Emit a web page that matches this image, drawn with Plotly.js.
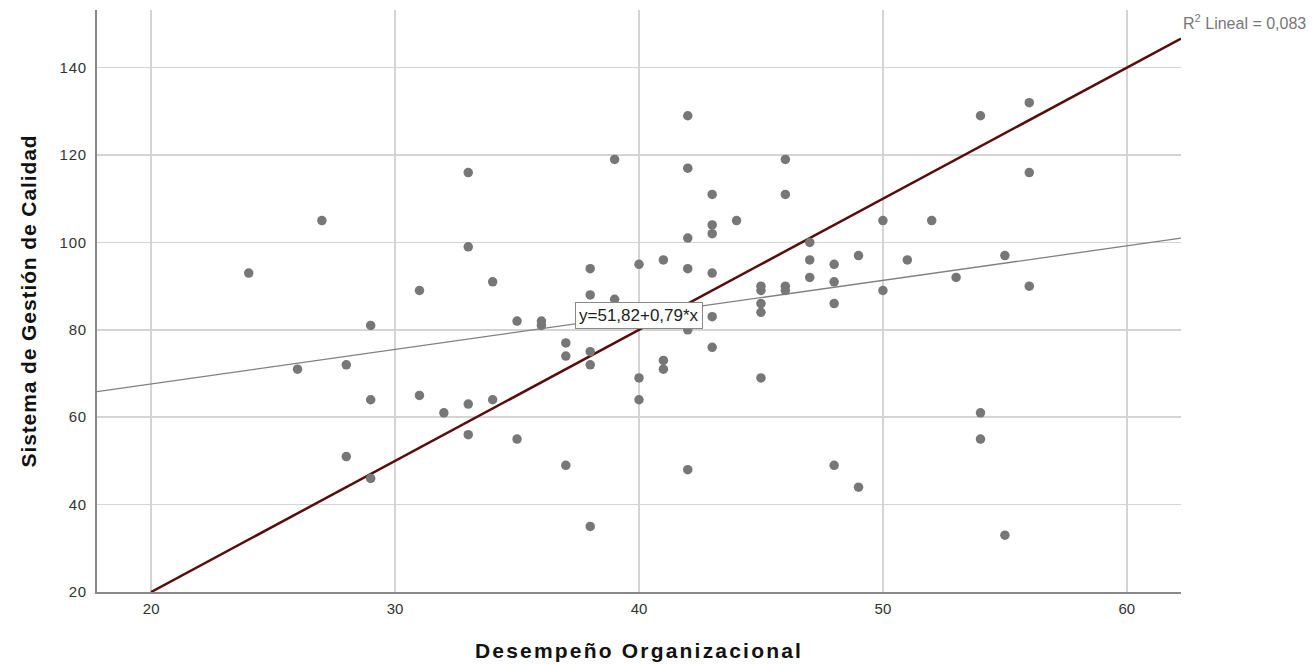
<!DOCTYPE html>
<html>
<head>
<meta charset="utf-8">
<script src="https://cdn.plot.ly/plotly-3.0.1.min.js"></script>
<style>
html,body{margin:0;padding:0;background:#fff;}
#chart{width:1312px;height:664px;}
.xtitle{letter-spacing:2.2px;}
.ytitle{letter-spacing:0.9px;}
.ytick text{letter-spacing:0.8px;}
</style>
</head>
<body>
<div id="chart"></div>
<script>
// Desempeño Organizacional (x) vs Sistema de Gestión de Calidad (y)
const desempeno = [24,26,27,28,28,29,29,29,31,31,32,33,33,33,33,34,34,35,35,36,36,37,37,37,
  38,38,38,38,38,39,39,40,40,40,41,41,41,42,42,42,42,42,42,43,43,43,43,43,43,44,
  45,45,45,45,45,46,46,46,46,47,47,47,48,48,48,48,49,49,50,50,51,52,53,54,54,54,55,55,56,56,56];
const gestion = [93,71,105,72,51,81,64,46,89,65,61,116,99,63,56,91,64,82,55,82,81,77,74,49,
  94,88,75,72,35,119,87,95,69,64,96,73,71,129,117,101,94,80,48,111,104,102,93,83,76,105,
  90,89,86,84,69,119,111,90,89,100,96,92,95,91,86,49,97,44,105,89,96,105,92,129,61,55,97,33,132,116,90];

const xRange = [17.78, 62.22];
const yRange = [20, 153.2];
const xTicks = [20, 30, 40, 50, 60];
const yTicks = [20, 40, 60, 80, 100, 120, 140];

// Fit line (from label) and reference line
const fitIntercept = 51.82, fitSlope = 0.79;
const refIntercept = -40, refSlope = 3;
const fitLabel = 'y=51,82+0,79*x';
const r2Label = 'R<sup>2</sup> Lineal = 0,083';

const fitX = [xRange[0], xRange[1]];
const fitY = fitX.map(v => fitIntercept + fitSlope * v);
const refX = [20, xRange[1]];
const refY = refX.map(v => refIntercept + refSlope * v);

const traces = [
  {x: refX, y: refY, mode: 'lines', line: {color: '#5a0c0c', width: 2.5}, hoverinfo: 'skip'},
  {x: fitX, y: fitY, mode: 'lines', line: {color: '#808080', width: 1.3}, hoverinfo: 'skip'},
  {x: desempeno, y: gestion, mode: 'markers', marker: {color: '#777777', size: 9.5}}
];

const fam = 'Liberation Sans, Arial, sans-serif';
const axisFont = {family: fam, size: 15, color: '#333'};
const titleFont = {family: fam, size: 21, color: '#111', weight: 'bold'};

const layout = {
  width: 1312, height: 664,
  margin: {l: 97, r: 131, t: 10, b: 72},
  paper_bgcolor: '#fff', plot_bgcolor: '#fff',
  showlegend: false,
  xaxis: {
    range: xRange, tickvals: xTicks, ticktext: xTicks.map(String),
    showgrid: true, gridcolor: '#d4d4d4', gridwidth: 1.5,
    zeroline: false, showline: true, linecolor: '#888', linewidth: 2,
    ticks: '', tickfont: axisFont, ticklabelstandoff: 2,
    title: {text: 'Desempeño Organizacional', font: titleFont, standoff: 27}
  },
  yaxis: {
    range: yRange, tickvals: yTicks, ticktext: yTicks.map(String),
    showgrid: true, gridcolor: '#d4d4d4', gridwidth: 1.5,
    zeroline: false, showline: true, linecolor: '#888', linewidth: 2,
    ticks: '', tickfont: axisFont, ticklabelstandoff: 5,
    title: {text: 'Sistema de Gestión de Calidad', font: titleFont, standoff: 17}
  },
  annotations: [
    {x: 40, y: 83.2, xref: 'x', yref: 'y', text: fitLabel, showarrow: false,
     font: {family: fam, size: 17, color: '#222'},
     bgcolor: '#fff', bordercolor: '#888', borderwidth: 1, borderpad: 3},
    {x: 1, y: 0.98, xref: 'paper', yref: 'paper', xanchor: 'left', yanchor: 'middle',
     text: r2Label, showarrow: false,
     font: {family: fam, size: 16, color: '#777'}}
  ]
};

Plotly.newPlot('chart', traces, layout, {staticPlot: true, displayModeBar: false});
</script>
</body>
</html>
